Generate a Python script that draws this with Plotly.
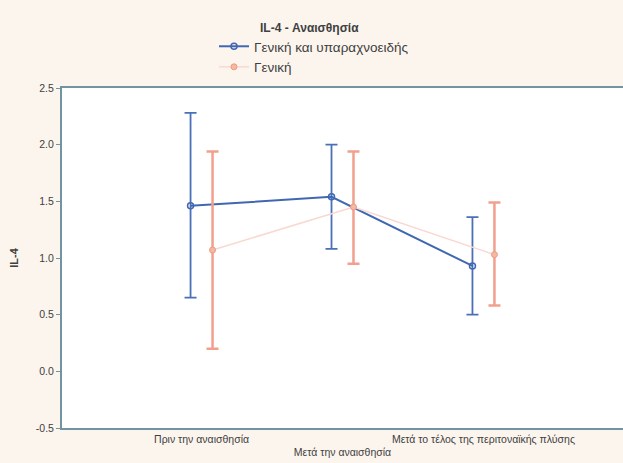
import plotly.graph_objects as go

categories = ["Πριν την αναισθησία", "Μετά την αναισθησία", "Μετά το τέλος της περιτοναϊκής πλύσης"]
tick_labels = ["Πριν την αναισθησία", "<br>Μετά την αναισθησία", "Μετά το τέλος της περιτοναϊκής πλύσης"]
series_names = ["Γενική και υπαραχνοειδής", "Γενική"]
legend_title = "IL-4 - Αναισθησία"

blue_mean = [1.46, 1.54, 0.93]
blue_upper = [2.28, 2.00, 1.36]
blue_lower = [0.65, 1.08, 0.50]

red_mean = [1.07, 1.45, 1.03]
red_upper = [1.94, 1.94, 1.49]
red_lower = [0.20, 0.95, 0.58]

y_ticks = [-0.5, 0.0, 0.5, 1.0, 1.5, 2.0, 2.5]

xi = list(range(len(categories)))
off = 0.078
blue_x = [i - off for i in xi]
red_x = [i + off for i in xi]

fig = go.Figure()
fig.add_trace(go.Scatter(
    x=blue_x, y=blue_mean, name=series_names[0], mode="lines+markers", legendgroup="a",
    line=dict(color="#4068b2", width=2),
    marker=dict(symbol="circle-open", size=6, color="#4068b2", line=dict(width=1.5)),
    error_y=dict(type="data", symmetric=False,
                 array=[u - m for u, m in zip(blue_upper, blue_mean)],
                 arrayminus=[m - l for m, l in zip(blue_mean, blue_lower)],
                 color="#4a70b8", thickness=1.8, width=6),
))
fig.add_trace(go.Scatter(
    x=red_x, y=red_mean, name=series_names[1], mode="lines+markers", legendgroup="b",
    line=dict(color="#f8d8d0", width=1.5),
    marker=dict(symbol="circle", size=6, color="#f4b9a3", line=dict(width=1, color="#f09a80")),
    error_y=dict(type="data", symmetric=False,
                 array=[u - m for u, m in zip(red_upper, red_mean)],
                 arrayminus=[m - l for m, l in zip(red_mean, red_lower)],
                 color="#f2a08e", thickness=2.5, width=6),
))

fig.add_annotation(
    text="<b>" + legend_title + "</b>", xref="paper", yref="paper",
    x=(258 - 62) / 561, y=1 + (88 - 28) / 340, xanchor="left", yanchor="middle",
    showarrow=False, font=dict(size=12, color="#404040"),
)

fig.update_layout(
    width=623, height=463,
    margin=dict(l=62, r=0, t=88, b=35, autoexpand=False),
    paper_bgcolor="#fcf5ee", plot_bgcolor="#ffffff",
    font=dict(family="Liberation Sans, Arial, sans-serif", size=10.5, color="#404040"),
    showlegend=True,
    legend=dict(
        x=(214 - 62) / 561, y=1 + (88 - 31) / 340, xanchor="left", yanchor="top",
        bgcolor="rgba(0,0,0,0)", font=dict(size=13.5, color="#404040"),
        tracegroupgap=0, itemwidth=30,
    ),
    xaxis=dict(
        range=[-0.99, 2.99], tickmode="array", tickvals=xi, ticktext=tick_labels,
        showgrid=False, zeroline=False, showline=True, linecolor="#7094a0", linewidth=2,
        mirror=True, ticks="", tickfont=dict(size=10.5), tickangle=0, automargin=False,
    ),
    yaxis=dict(
        range=[-0.5, 2.5], tickmode="array", tickvals=y_ticks,
        ticktext=[f"{v:.1f}" for v in y_ticks],
        showgrid=False, zeroline=False, showline=True, linecolor="#7094a0", linewidth=2,
        mirror=True, ticks="outside", ticklen=4, tickcolor="#7094a0",
        title=dict(text="<b>IL-4</b>", font=dict(size=11), standoff=15),
        tickfont=dict(size=10.5), automargin=False,
    ),
)

fig.write_html("out.html", config={"displayModeBar": False},
               post_script="document.body.style.margin='0';document.body.style.padding='0';")
